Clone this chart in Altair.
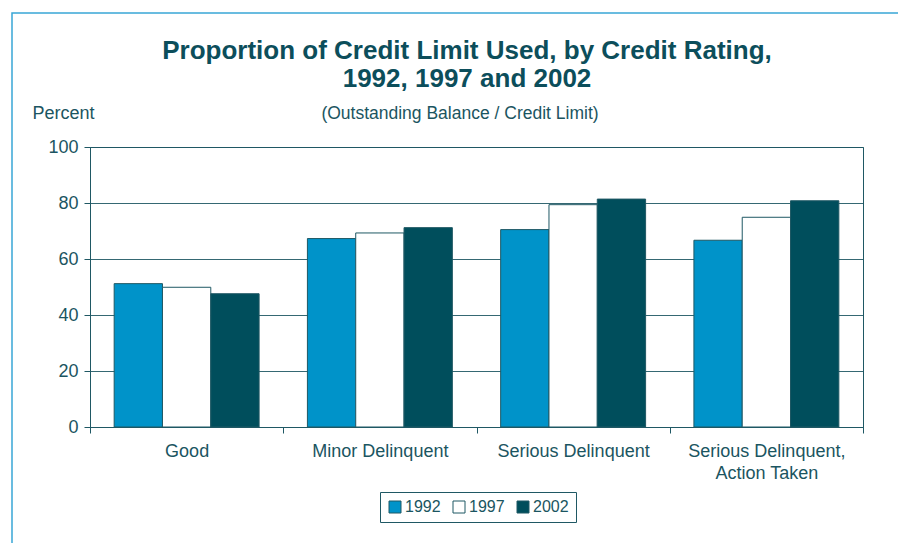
import altair as alt
import pandas as pd

categories = ["Good", "Minor Delinquent", "Serious Delinquent", "Serious Delinquent, Action Taken"]
years = ["1992", "1997", "2002"]
v1992 = [51.2, 67.3, 70.5, 66.7]
v1997 = [49.9, 69.3, 79.4, 74.9]
v2002 = [47.6, 71.2, 81.4, 80.8]
colors = ["#0093C9", "#FFFFFF", "#004E5C"]

title_lines = ["Proportion of Credit Limit Used, by Credit Rating,", "1992, 1997 and 2002"]
subtitle = "(Outstanding Balance / Credit Limit)"

rows = []
for yr, vals in zip(years, [v1992, v1997, v2002]):
    for c, v in zip(categories, vals):
        rows.append({"category": c, "year": yr, "value": v})
df = pd.DataFrame(rows)

TEAL = "#1B5561"
LINE = "#1F5864"
FONT = "Liberation Sans"

bars = alt.Chart(df).mark_bar(stroke=LINE, strokeWidth=1).encode(
    x=alt.X("category:N", sort=categories,
            scale=alt.Scale(paddingInner=0, paddingOuter=0),
            axis=alt.Axis(title=None, labelAngle=0, tickBand="extent", tickSize=6,
                          labelPadding=9, labelFontSize=18, labelLineHeight=22,
                          labelExpr="datum.value == 'Serious Delinquent, Action Taken' ? ['Serious Delinquent,', 'Action Taken'] : datum.value")),
    xOffset=alt.XOffset("year:N", sort=years, scale=alt.Scale(paddingInner=0, paddingOuter=0.5)),
    y=alt.Y("value:Q", scale=alt.Scale(domain=[0, 100], nice=False),
            axis=alt.Axis(values=[0, 20, 40, 60, 80, 100], title="Percent", titleAngle=0,
                          titleAlign="left", titleBaseline="alphabetic", titleX=-58, titleY=-29,
                          titleFontWeight="normal", titleFontSize=18, tickSize=6,
                          labelPadding=6, labelFontSize=18, grid=True)),
    color=alt.Color("year:N", sort=years, scale=alt.Scale(domain=years, range=colors),
                    legend=alt.Legend(title=None, orient="none", direction="horizontal",
                                      legendX=290, legendY=345, symbolType="square",
                                      symbolSize=144, symbolStrokeColor=LINE, symbolStrokeWidth=1,
                                      labelFontSize=16, labelOffset=2, columnPadding=10,
                                      padding=7, strokeColor=LINE, fillColor="white")),
)

one = pd.DataFrame({"k": [0]})
t1 = alt.Chart(one).mark_text(font=FONT, fontWeight="bold", fontSize=26, color="#0C4E5B",
                              align="center", baseline="alphabetic").encode(
    x=alt.value(377), y=alt.value(-88), text=alt.value(title_lines[0]))
t2 = alt.Chart(one).mark_text(font=FONT, fontWeight="bold", fontSize=26, color="#0C4E5B",
                              align="center", baseline="alphabetic").encode(
    x=alt.value(377), y=alt.value(-60), text=alt.value(title_lines[1]))
st = alt.Chart(one).mark_text(font=FONT, fontSize=17.5, color=TEAL,
                              align="center", baseline="alphabetic").encode(
    x=alt.value(370), y=alt.value(-28), text=alt.value(subtitle))
frame = alt.Chart(one).mark_rect(fill=None, stroke="#38A6D6", strokeWidth=1.5).encode(
    x=alt.value(-78), x2=alt.value(812), y=alt.value(-134), y2=alt.value(440))

chart = alt.layer(frame, bars, t1, t2, st).properties(
    width=773, height=280,
    autosize=alt.AutoSizeParams(type="none"),
    padding={"left": 82, "top": 139, "right": 35, "bottom": 116},
).configure_view(stroke=LINE, strokeWidth=1).configure_axis(
    domainColor=LINE, tickColor=LINE, gridColor=LINE, gridOpacity=0.9,
    labelColor=TEAL, titleColor=TEAL, labelFont=FONT, titleFont=FONT,
).configure_legend(labelFont=FONT, labelColor=TEAL)

chart.save("out.html", embed_options={"renderer": "svg", "actions": False})
